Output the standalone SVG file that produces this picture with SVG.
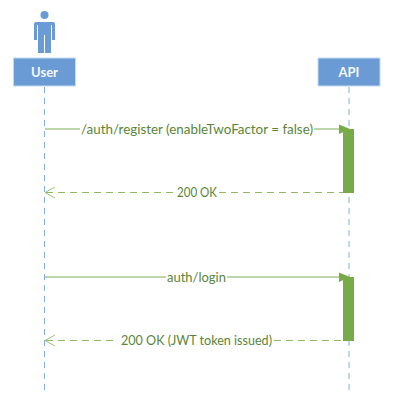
<svg xmlns="http://www.w3.org/2000/svg" width="402" height="412" viewBox="0 0 402 412">
<style>
.life{stroke:#6fa0dc;stroke-width:1;stroke-dasharray:6 5;fill:none;opacity:.85}
.box{fill:#6a9bd4;stroke:#c5d9f0;stroke-width:1}
.name{font-family:"Lato","Liberation Sans",sans-serif;font-size:13px;font-weight:700;fill:#f4f8fc;text-anchor:middle}
.msg{font-family:"Lato","Liberation Sans",sans-serif;font-size:13.4px;fill:#5a8538;text-anchor:middle}
.call{stroke:#a9c88f;stroke-width:1.5;fill:none}
.ret{stroke:#8dbb62;stroke-width:1.2;stroke-dasharray:7 5;fill:none}
.bar{fill:#76ab47}
.head{fill:#76ab47}
.open{stroke:#9cc47a;stroke-width:1;fill:none}
</style>
<rect width="402" height="412" fill="#fff"/>
<g id="connectors">
<line class="life" x1="44.5" y1="87" x2="44.5" y2="395"/>
<line class="life" x1="349" y1="87" x2="349" y2="395"/>
<line class="call" x1="45" y1="129" x2="80" y2="129"/>
<line class="call" x1="314" y1="129" x2="340" y2="129"/>
<polygon class="head" points="339,124.500 350,129 339,134"/>
<line class="ret" x1="46" y1="192.500" x2="174" y2="192.500"/>
<line class="ret" x1="219" y1="192.500" x2="343" y2="192.500"/>
<polyline class="open" points="55,187 45,192.500 55,198"/>
<line class="call" x1="45" y1="277" x2="166" y2="277"/>
<line class="call" x1="227" y1="277" x2="340" y2="277"/>
<polygon class="head" points="339,272.500 350,277 339,282"/>
<line class="ret" x1="46" y1="340.500" x2="116" y2="340.500"/>
<line class="ret" x1="274" y1="340.500" x2="343" y2="340.500"/>
<polyline class="open" points="55,335 45,340.500 55,346"/>
</g>
<g id="actor-user">
<circle cx="44.500" cy="15" r="4" fill="#6a9bd4"/>
<path d="M36 22h17q2 0 2 2v16h-3v-15h-1v28h-6v-18h-1v18h-6v-28h-1v15h-3v-16q0-2 2-2z" fill="#6a9bd4"/>
</g>
<g id="node-user">
<rect class="box" x="13.500" y="58" width="62" height="28"/>
<text class="name" x="44.500" y="76.500">User</text>
</g>
<g id="node-api">
<rect class="box" x="318" y="58" width="62" height="28"/>
<text class="name" x="349" y="76.500">API</text>
</g>
<g id="activation-1"><rect class="bar" x="343" y="129" width="11" height="64"/></g>
<g id="activation-2"><rect class="bar" x="343" y="277" width="11" height="64"/></g>
<g id="labels">
<text class="msg" x="197" y="133.500" textLength="232" lengthAdjust="spacingAndGlyphs">/auth/register (enableTwoFactor = false)</text>
<text class="msg" x="197" y="197" textLength="40" lengthAdjust="spacingAndGlyphs">200 OK</text>
<text class="msg" x="196.500" y="281.500" textLength="59" lengthAdjust="spacingAndGlyphs">auth/login</text>
<text class="msg" x="196.500" y="345" textLength="151" lengthAdjust="spacingAndGlyphs">200 OK (JWT token issued)</text>
</g>
</svg>
